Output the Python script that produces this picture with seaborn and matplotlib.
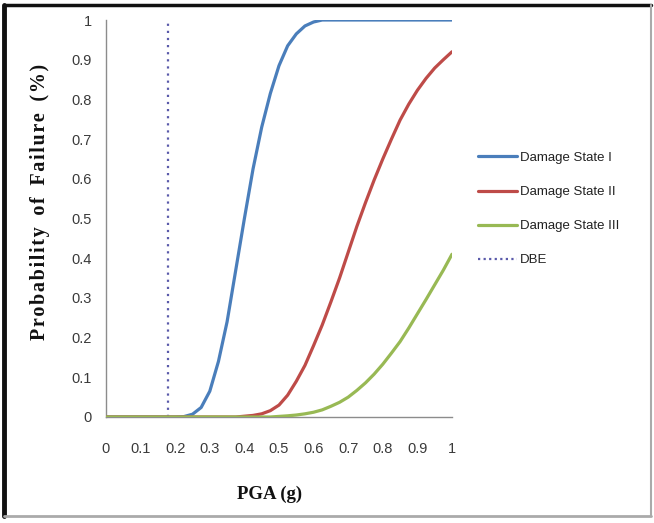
import matplotlib
matplotlib.use("Agg")
import matplotlib.pyplot as plt
import seaborn as sns
import pandas as pd
from matplotlib.lines import Line2D

# ---- data ----
pga = [0.0, 0.05, 0.1, 0.15, 0.2, 0.225, 0.25, 0.275, 0.3, 0.325, 0.35, 0.375, 0.4,
       0.425, 0.45, 0.475, 0.5, 0.525, 0.55, 0.575, 0.6, 0.625, 0.65, 0.675, 0.7,
       0.725, 0.75, 0.775, 0.8, 0.825, 0.85, 0.875, 0.9, 0.925, 0.95, 0.975, 1.0]
ds1 = [0.0, 0.0, 0.0, 0.0, 0.0, 0.001, 0.007, 0.024, 0.065, 0.14, 0.24, 0.37, 0.5,
       0.625, 0.73, 0.815, 0.885, 0.935, 0.965, 0.985, 0.995, 1.0, 1.0, 1.0, 1.0,
       1.0, 1.0, 1.0, 1.0, 1.0, 1.0, 1.0, 1.0, 1.0, 1.0, 1.0, 1.0]
ds2 = [0.0, 0.0, 0.0, 0.0, 0.0, 0.0, 0.0, 0.0, 0.0, 0.0, 0.0, 0.0, 0.002,
       0.004, 0.008, 0.016, 0.03, 0.055, 0.09, 0.13, 0.18, 0.232, 0.29, 0.35, 0.415,
       0.48, 0.54, 0.597, 0.65, 0.70, 0.748, 0.788, 0.823, 0.853, 0.879, 0.90, 0.92]
ds3 = [0.0, 0.0, 0.0, 0.0, 0.0, 0.0, 0.0, 0.0, 0.0, 0.0, 0.0, 0.0, 0.0,
       0.0, 0.0, 0.0, 0.0015, 0.003, 0.005, 0.008, 0.012, 0.018, 0.027, 0.037, 0.05,
       0.067, 0.086, 0.108, 0.133, 0.161, 0.19, 0.224, 0.26, 0.296, 0.333, 0.37, 0.41]
series_names = ["Damage State I", "Damage State II", "Damage State III"]
dbe_x = 0.18
x_ticks = [0, 0.1, 0.2, 0.3, 0.4, 0.5, 0.6, 0.7, 0.8, 0.9, 1]
x_tick_labels = ["0", "0.1", "0.2", "0.3", "0.4", "0.5", "0.6", "0.7", "0.8", "0.9", "1"]
y_ticks = [0, 0.1, 0.2, 0.3, 0.4, 0.5, 0.6, 0.7, 0.8, 0.9, 1]
y_tick_labels = ["0", "0.1", "0.2", "0.3", "0.4", "0.5", "0.6", "0.7", "0.8", "0.9", "1"]

df = pd.DataFrame({
    "PGA": pga * 3,
    "P": ds1 + ds2 + ds3,
    "State": [series_names[0]] * len(pga) + [series_names[1]] * len(pga) + [series_names[2]] * len(pga),
})

sns.set_style("white")
narrow = ["Liberation Sans Narrow", "Liberation Sans", "DejaVu Sans"]
serif = ["Liberation Serif", "DejaVu Serif"]

colors = {"Damage State I": "#4A7EBB", "Damage State II": "#BE4B48", "Damage State III": "#98B954"}
dbe_color = "#5A5AAA"

fig = plt.figure(figsize=(6.54, 5.23), dpi=100)
ax = fig.add_axes([106 / 654, 1 - 417 / 523, 346 / 654, 397 / 523])

ax.axvline(dbe_x, ymin=0, ymax=1, color=dbe_color, lw=1.6, ls=(0, (1, 2.2)), zorder=1)
sns.lineplot(data=df, x="PGA", y="P", hue="State", palette=colors, ax=ax,
             linewidth=2.3, legend=False, zorder=3)
ax.set_xlabel("")
ax.set_ylabel("")

ax.set_xlim(0, 1)
ax.set_ylim(0, 1)
ax.set_xticks(x_ticks)
ax.set_xticklabels(x_tick_labels)
ax.set_yticks(y_ticks)
ax.set_yticklabels(y_tick_labels)
for lab in ax.get_xticklabels() + ax.get_yticklabels():
    lab.set_family(narrow)
    lab.set_fontsize(10.5)
    lab.set_color("#3a3a3a")
ax.tick_params(axis="x", direction="out", length=4, width=0.8, color="#888888", pad=14)
ax.tick_params(axis="y", direction="out", length=4, width=0.8, color="#888888", pad=6)

for s in ["top", "right"]:
    ax.spines[s].set_visible(False)
for s in ["left", "bottom"]:
    ax.spines[s].set_color("#8c8c8c")
    ax.spines[s].set_linewidth(1.0)

hs = "\u200a"
ylab = hs.join("Probability") + hs + "  " + hs.join("of") + hs + "  " + \
       hs.join("Failure") + hs + "  " + hs.join("(%)")
fig.text(40 / 654, 1 - 202 / 523, ylab, rotation=90, ha="center", va="center",
         family=serif, fontweight="bold", fontsize=14.5, color="#111111")
fig.text(270 / 654, 1 - 494 / 523, "PGA (g)", ha="center", va="center",
         family=serif, fontweight="bold", fontsize=13.5, color="#111111")

handles = [Line2D([0], [0], color=colors[n], lw=2.3) for n in series_names]
handles.append(Line2D([0], [0], color=dbe_color, lw=1.6, ls=(0, (1, 1.5))))
labels = series_names + ["DBE"]
leg = fig.legend(handles, labels, loc="upper left", bbox_to_anchor=(466 / 654, 1 - 140 / 523),
                 frameon=False, handlelength=3.0, handletextpad=0.2, labelspacing=1.65,
                 prop={"family": narrow, "size": 9.5})
for t in leg.get_texts():
    t.set_color("#222222")

# figure border
fig.add_artist(Line2D([4 / 654, 4 / 654], [1 - 5 / 523, 1 - 516 / 523], transform=fig.transFigure,
                      color="#111111", lw=3.5))
fig.add_artist(Line2D([4 / 654, 651 / 654], [1 - 5 / 523, 1 - 5 / 523], transform=fig.transFigure,
                      color="#111111", lw=2.5))
fig.add_artist(Line2D([651 / 654, 651 / 654], [1 - 5 / 523, 1 - 516 / 523], transform=fig.transFigure,
                      color="#aaaaaa", lw=1.5))
fig.add_artist(Line2D([4 / 654, 651 / 654], [1 - 516 / 523, 1 - 516 / 523], transform=fig.transFigure,
                      color="#aaaaaa", lw=2.0))

fig.savefig("out.png", dpi=100)
